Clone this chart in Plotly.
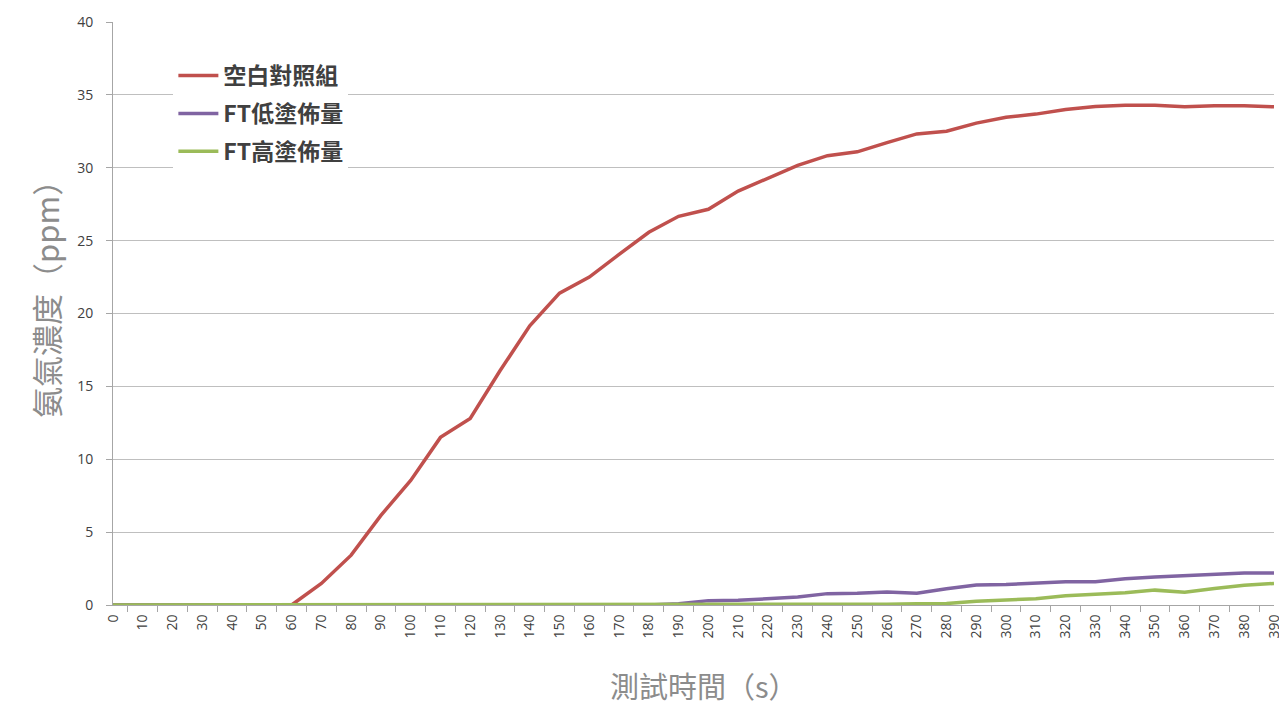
import plotly.graph_objects as go

times = [str(t) for t in range(0, 400, 10)]

blank = [0, 0, 0, 0, 0, 0, 0, 1.48, 3.42, 6.15, 8.55, 11.5, 12.8, 16.07, 19.15, 21.4, 22.5, 24.05, 25.57, 26.67,
         27.15, 28.4, 29.26, 30.16, 30.83, 31.09, 31.72, 32.32, 32.5, 33.06, 33.46, 33.68, 34.0, 34.2, 34.28, 34.28,
         34.18, 34.25, 34.25, 34.18]
ft_low = [0, 0, 0, 0, 0, 0, 0, 0, 0, 0, 0, 0, 0, 0, 0, 0, 0, 0, 0, 0.08,
          0.3, 0.32, 0.41, 0.55, 0.78, 0.8, 0.9, 0.8, 1.12, 1.38, 1.4, 1.48, 1.6, 1.6, 1.8, 1.92,
          2.0, 2.13, 2.2, 2.19]
ft_high = [0, 0, 0, 0, 0, 0, 0, 0, 0, 0, 0, 0, 0, 0, 0, 0, 0, 0, 0, 0,
           0, 0, 0, 0, 0, 0, 0.06, 0.08, 0.1, 0.26, 0.34, 0.43, 0.64, 0.74, 0.84, 1.02,
           0.87, 1.13, 1.36, 1.48]

series_names = ["空白對照組", "FT低塗佈量", "FT高塗佈量"]
series_colors = ["#C0504D", "#8064A2", "#9BBB59"]
y_ticks = [0, 5, 10, 15, 20, 25, 30, 35, 40]

fig = go.Figure()
for name, vals, col in zip(series_names, [blank, ft_low, ft_high], series_colors):
    fig.add_trace(go.Scatter(x=times, y=vals, mode="lines", name=name, legendgroup=name,
                             line=dict(color=col, width=3.5)))

tick_font = dict(family="Open Sans, Liberation Sans, sans-serif", size=14, color="#404040")

fig.update_layout(
    width=1279, height=698,
    margin=dict(l=105, r=4, t=12, b=101),
    paper_bgcolor="white", plot_bgcolor="white",
    showlegend=True,
    legend=dict(x=0.052, y=0.945, xanchor="left", yanchor="top", bgcolor="white",
                font=dict(family="Noto Sans CJK TC, sans-serif", size=23, color="#404040", weight="bold"),
                tracegroupgap=5, itemwidth=40),
    xaxis=dict(type="category", tickson="boundaries", ticks="outside", ticklen=6, tickcolor="#A6A6A6",
               showgrid=False, showline=True, linecolor="#A6A6A6", linewidth=1, ticklabelstandoff=3,
               tickangle=-90, tickfont=tick_font, fixedrange=True),
    yaxis=dict(range=[0, 40], tickvals=y_ticks, ticks="outside", ticklen=6, tickcolor="#A6A6A6",
               showgrid=True, gridcolor="#BFBFBF", gridwidth=1, zeroline=False, ticklabelstandoff=10,
               showline=True, linecolor="#A6A6A6", linewidth=1, tickfont=tick_font, fixedrange=True),
    annotations=[
        dict(text="氨氣濃度（ppm）", xref="paper", yref="paper", x=-0.058, y=0.538, xanchor="center", yanchor="middle",
             textangle=-90, showarrow=False, font=dict(family="Noto Sans CJK TC, sans-serif", size=31, color="#8C8C8C")),
        dict(text="測試時間（s）", xref="paper", yref="paper", x=0.509, y=-0.137, xanchor="center", yanchor="middle",
             showarrow=False, font=dict(family="Noto Sans CJK TC, sans-serif", size=29, color="#8C8C8C")),
    ],
)

fig.write_html("out.html")
